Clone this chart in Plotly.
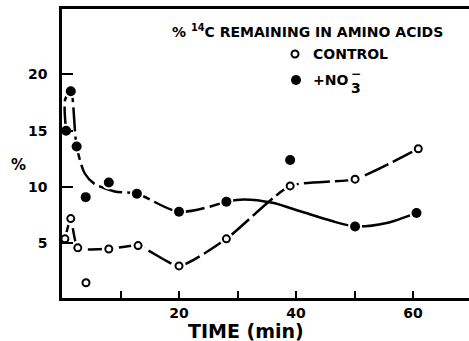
import plotly.graph_objects as go

# Measured values: % 14C remaining in amino acids vs time (min)
time_control = [0.5, 1.5, 2.7, 4.1, 8.0, 13.0, 20.0, 28.1, 39.0, 50.1, 60.9]
pct_control = [5.4, 7.2, 4.6, 1.5, 4.5, 4.8, 3.0, 5.4, 10.1, 10.7, 13.4]

time_no3 = [0.7, 1.5, 2.5, 4.05, 8.0, 12.8, 20.0, 28.1, 39.0, 50.1, 60.6]
pct_no3 = [15.0, 18.5, 13.6, 9.1, 10.4, 9.4, 7.8, 8.7, 12.4, 6.5, 7.7]

# Hand-fitted trend curves
fit_control_t = [0.5, 1.5, 2.7, 8.0, 13.0, 20.0, 28.1, 39.0, 50.1, 60.9]
fit_control_v = [5.4, 7.2, 4.6, 4.5, 4.8, 3.0, 5.4, 10.1, 10.7, 13.4]

fit_no3_early_t = [0.7, 0.55, 1.5, 2.5, 3.9, 5.5, 9.0, 12.8, 20.0, 28.1]
fit_no3_early_v = [15.0, 17.8, 18.5, 13.6, 11.2, 10.3, 9.6, 9.4, 7.8, 8.7]
fit_no3_late_t = [28.1, 31.0, 36.0, 41.0, 46.0, 50.1, 55.5, 60.6]
fit_no3_late_v = [8.7, 8.9, 8.6, 7.8, 7.0, 6.5, 6.8, 7.7]

x_major = [20, 40, 60]
x_minor = [10, 30, 50]
y_ticks = [5, 10, 15, 20]

W, H = 469, 341
ML, MR, MT, MB = 62, 0, 9, 43
PW, PH = W - ML - MR, H - MT - MB

FONT = "DejaVu Sans"
INK = "black"


def px(x):
    return (x - ML) / PW


def py(y):
    return (H - MB - y) / PH


fig = go.Figure()

line_style = dict(color=INK, width=2.5, shape="spline")

fig.add_trace(go.Scatter(x=fit_control_t, y=fit_control_v, mode="lines",
                         line=dict(**line_style, smoothing=0.55, dash="26px,5px")))
fig.add_trace(go.Scatter(x=fit_no3_early_t, y=fit_no3_early_v, mode="lines",
                         line=dict(**line_style, smoothing=0.8, dash="24px,5px")))
fig.add_trace(go.Scatter(x=fit_no3_late_t, y=fit_no3_late_v, mode="lines",
                         line=dict(**line_style, smoothing=0.8)))

# white halos leave a small gap between curve and symbol
for t, v in ((time_control, pct_control), (time_no3, pct_no3)):
    fig.add_trace(go.Scatter(x=t, y=v, mode="markers",
                             marker=dict(size=14, color="white", line=dict(width=0))))

fig.add_trace(go.Scatter(x=time_control, y=pct_control, mode="markers",
                         marker=dict(symbol="circle", size=7, color="white",
                                     line=dict(color=INK, width=2))))
fig.add_trace(go.Scatter(x=time_no3, y=pct_no3, mode="markers",
                         marker=dict(symbol="circle", size=10, color=INK,
                                     line=dict(width=0))))

tick_font = dict(family=FONT, size=14, weight="bold", color=INK)

fig.update_layout(
    width=W, height=H,
    margin=dict(l=ML, r=MR, t=MT, b=MB),
    paper_bgcolor="white", plot_bgcolor="white",
    showlegend=False,
    font=dict(family=FONT, size=14, color=INK),
    xaxis=dict(range=[0, PW / 5.85], tickvals=x_major,
               ticks="inside", ticklen=7, tickwidth=2, tickcolor=INK,
               minor=dict(tickvals=x_minor, ticks="inside", ticklen=7,
                          tickwidth=2, tickcolor=INK, showgrid=False),
               showline=True, linecolor=INK, linewidth=2.5, mirror=True,
               showgrid=False, zeroline=False, tickfont=tick_font),
    yaxis=dict(range=[0.15, 25.8], tickvals=y_ticks,
               ticks="inside", ticklen=11, tickwidth=2, tickcolor=INK,
               ticklabelstandoff=9,
               showline=True, linecolor=INK, linewidth=2.5,
               showgrid=False, zeroline=False, tickfont=tick_font),
)

bold = dict(family=FONT, color=INK, weight="bold")


def label(text, x, y, size, xanchor="left"):
    fig.add_annotation(text=text, x=px(x), y=py(y), xref="paper", yref="paper",
                       xanchor=xanchor, yanchor="middle", showarrow=False,
                       font=dict(size=size, **bold))


def key_symbol(x, y, d, filled):
    fig.add_shape(type="circle", xref="paper", yref="paper",
                  xsizemode="pixel", ysizemode="pixel",
                  xanchor=px(x), yanchor=py(y),
                  x0=-d / 2, x1=d / 2, y0=-d / 2, y1=d / 2,
                  fillcolor=INK if filled else "white",
                  line=dict(color=INK, width=0 if filled else 2))


label("%", 18, 165, 15, "center")
label("TIME (min)", 246, 331, 19, "center")

label("% <sup>14</sup>C REMAINING IN AMINO ACIDS", 170, 31, 14)
key_symbol(295, 54, 7, False)
label("CONTROL", 311, 54, 14)
key_symbol(296, 80, 10, True)
label("+NO", 311, 80, 14)
label("−", 356, 74, 12, "center")
label("3", 356, 88, 14, "center")

fig.write_html("out.html")
